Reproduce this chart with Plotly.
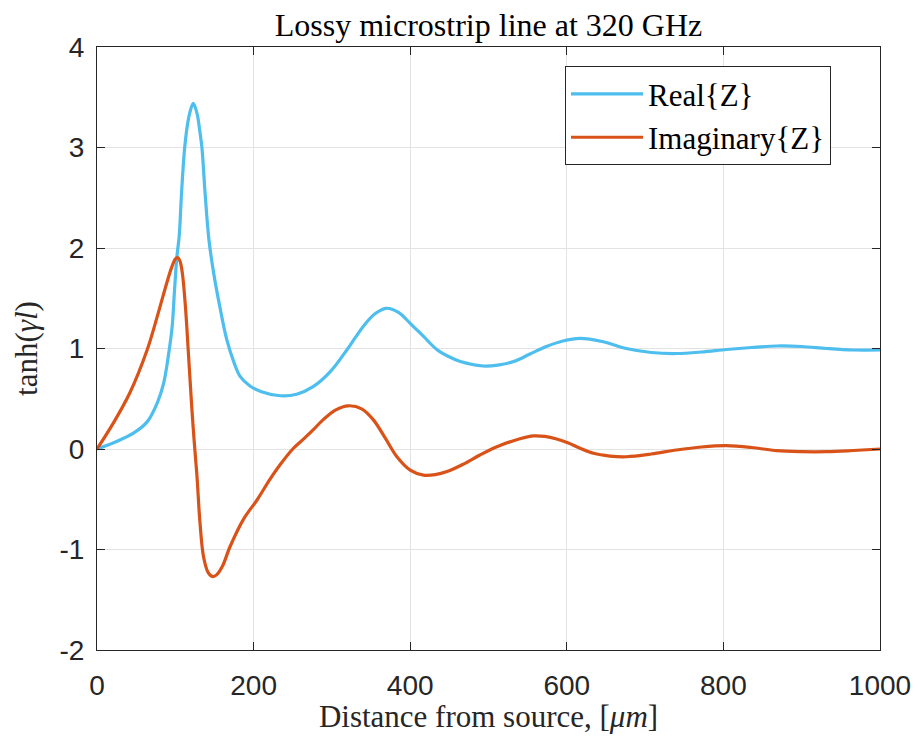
import plotly.graph_objects as go

# Distance from source [um] and tanh(gamma*l) components
real_x = [0, 25, 47, 64, 77, 85, 91, 96, 99, 102, 105, 108, 112, 116, 119, 123, 128, 131,
          134, 138, 143, 149, 157, 166, 175, 183, 195, 210, 234, 255, 276, 298, 319, 330,
          340, 355, 369, 385, 400, 417, 434, 449, 464, 493, 512, 532, 553, 574, 595, 617,
          645, 676, 708, 740, 772, 804, 836, 868, 900, 932, 966, 1000]
real_y = [0, 0.075, 0.16, 0.27, 0.46, 0.65, 0.92, 1.22, 1.58, 1.91, 2.12, 2.55, 3.0, 3.25,
          3.36, 3.44, 3.33, 3.18, 3.0, 2.55, 2.08, 1.75, 1.41, 1.08, 0.86, 0.72, 0.63, 0.57,
          0.53, 0.545, 0.62, 0.77, 0.985, 1.11, 1.22, 1.345, 1.40, 1.36, 1.25, 1.12, 0.99,
          0.92, 0.87, 0.826, 0.835, 0.87, 0.945, 1.02, 1.075, 1.10, 1.07, 1.0, 0.96, 0.95,
          0.965, 0.99, 1.01, 1.025, 1.02, 1.0, 0.985, 0.985]

imag_x = [0, 21, 42, 64, 77, 89, 95, 100, 103, 106, 109, 113, 117, 121, 124, 127.5, 131.5,
          136, 142, 148, 153, 160, 170, 187, 205, 221, 234, 250, 264, 276, 290, 305, 321,
          338, 353, 368, 383, 400, 417, 432, 447, 468, 489, 510, 532, 557, 572, 587, 602,
          617, 634, 655, 676, 708, 740, 772, 804, 836, 868, 900, 932, 966, 1000]
imag_y = [0, 0.26, 0.56, 0.985, 1.32, 1.65, 1.80, 1.89, 1.905, 1.87, 1.75, 1.41, 0.92, 0.42,
          0.09, -0.25, -0.73, -1.07, -1.23, -1.27, -1.25, -1.17, -0.97, -0.70, -0.50, -0.30,
          -0.155, 0.0, 0.10, 0.19, 0.30, 0.39, 0.43, 0.40, 0.29, 0.11, -0.077, -0.21,
          -0.26, -0.255, -0.225, -0.15, -0.06, 0.02, 0.083, 0.13, 0.125, 0.10, 0.06, 0.007,
          -0.043, -0.07, -0.077, -0.05, -0.01, 0.02, 0.033, 0.015, -0.017, -0.027, -0.027,
          -0.015, 0.0]

x_ticks = [0, 200, 400, 600, 800, 1000]
y_ticks = [-2, -1, 0, 1, 2, 3, 4]
y_tick_text = ["-2", "-1", "0", "1", "2", "3", "4"]

series_names = ["Real{Z}", "Imaginary{Z}"]
colors = ["#4DBEEE", "#D95319"]

serif = "Liberation Serif, Times New Roman, serif"
sans = "Liberation Sans, Arial, Helvetica, sans-serif"
axis_col = "#262626"

W, H = 904, 726  # page adds an 8px body margin on each side

fig = go.Figure()
fig.add_trace(go.Scatter(x=real_x, y=real_y, mode="lines", name=series_names[0],
                         line=dict(color=colors[0], width=3.2, shape="spline", smoothing=1.0)))
fig.add_trace(go.Scatter(x=imag_x, y=imag_y, mode="lines", name=series_names[1],
                         line=dict(color=colors[1], width=3.2, shape="spline", smoothing=1.0)))

fig.update_layout(
    width=W, height=H,
    margin=dict(l=89, r=32, t=39, b=84),
    paper_bgcolor="white", plot_bgcolor="white",
    title=dict(text="Lossy microstrip line at 320 GHz", x=0.5, xanchor="center", xref="paper",
               y=1 - 17 / H, yanchor="middle", yref="container",
               font=dict(family=serif, size=32, color="black")),
    legend=dict(x=(565 - 97) / 783, xanchor="left", y=0.968, yanchor="top",
                bordercolor=axis_col, borderwidth=1, bgcolor="white",
                font=dict(family=serif, size=31, color="black"),
                itemwidth=72, tracegroupgap=0),
    showlegend=True,
)
fig.update_xaxes(range=[0, 1000], tickvals=x_ticks, ticks="inside", ticklen=8,
                 tickcolor=axis_col, showline=True, linecolor=axis_col, linewidth=1,
                 mirror="ticks", showgrid=True, gridcolor="#e3e3e3", zeroline=False,
                 automargin=False,
                 tickfont=dict(family=sans, size=28, color=axis_col),
                 ticklabelstandoff=10,
                 title=dict(text="Distance from source, [<i>μm</i>]", standoff=2,
                            font=dict(family=serif, size=31, color=axis_col)))
fig.update_yaxes(range=[-2, 4], tickvals=y_ticks, ticktext=y_tick_text, ticks="inside",
                 ticklen=8, tickcolor=axis_col, showline=True, linecolor=axis_col,
                 linewidth=1, mirror="ticks", showgrid=True, gridcolor="#e3e3e3",
                 zeroline=False, automargin=False,
                 tickfont=dict(family=sans, size=28, color=axis_col),
                 ticklabelstandoff=6,
                 title=dict(text="tanh(<i>γl</i>)", standoff=12,
                            font=dict(family=serif, size=31, color=axis_col)))

fig.write_html("out.html")
